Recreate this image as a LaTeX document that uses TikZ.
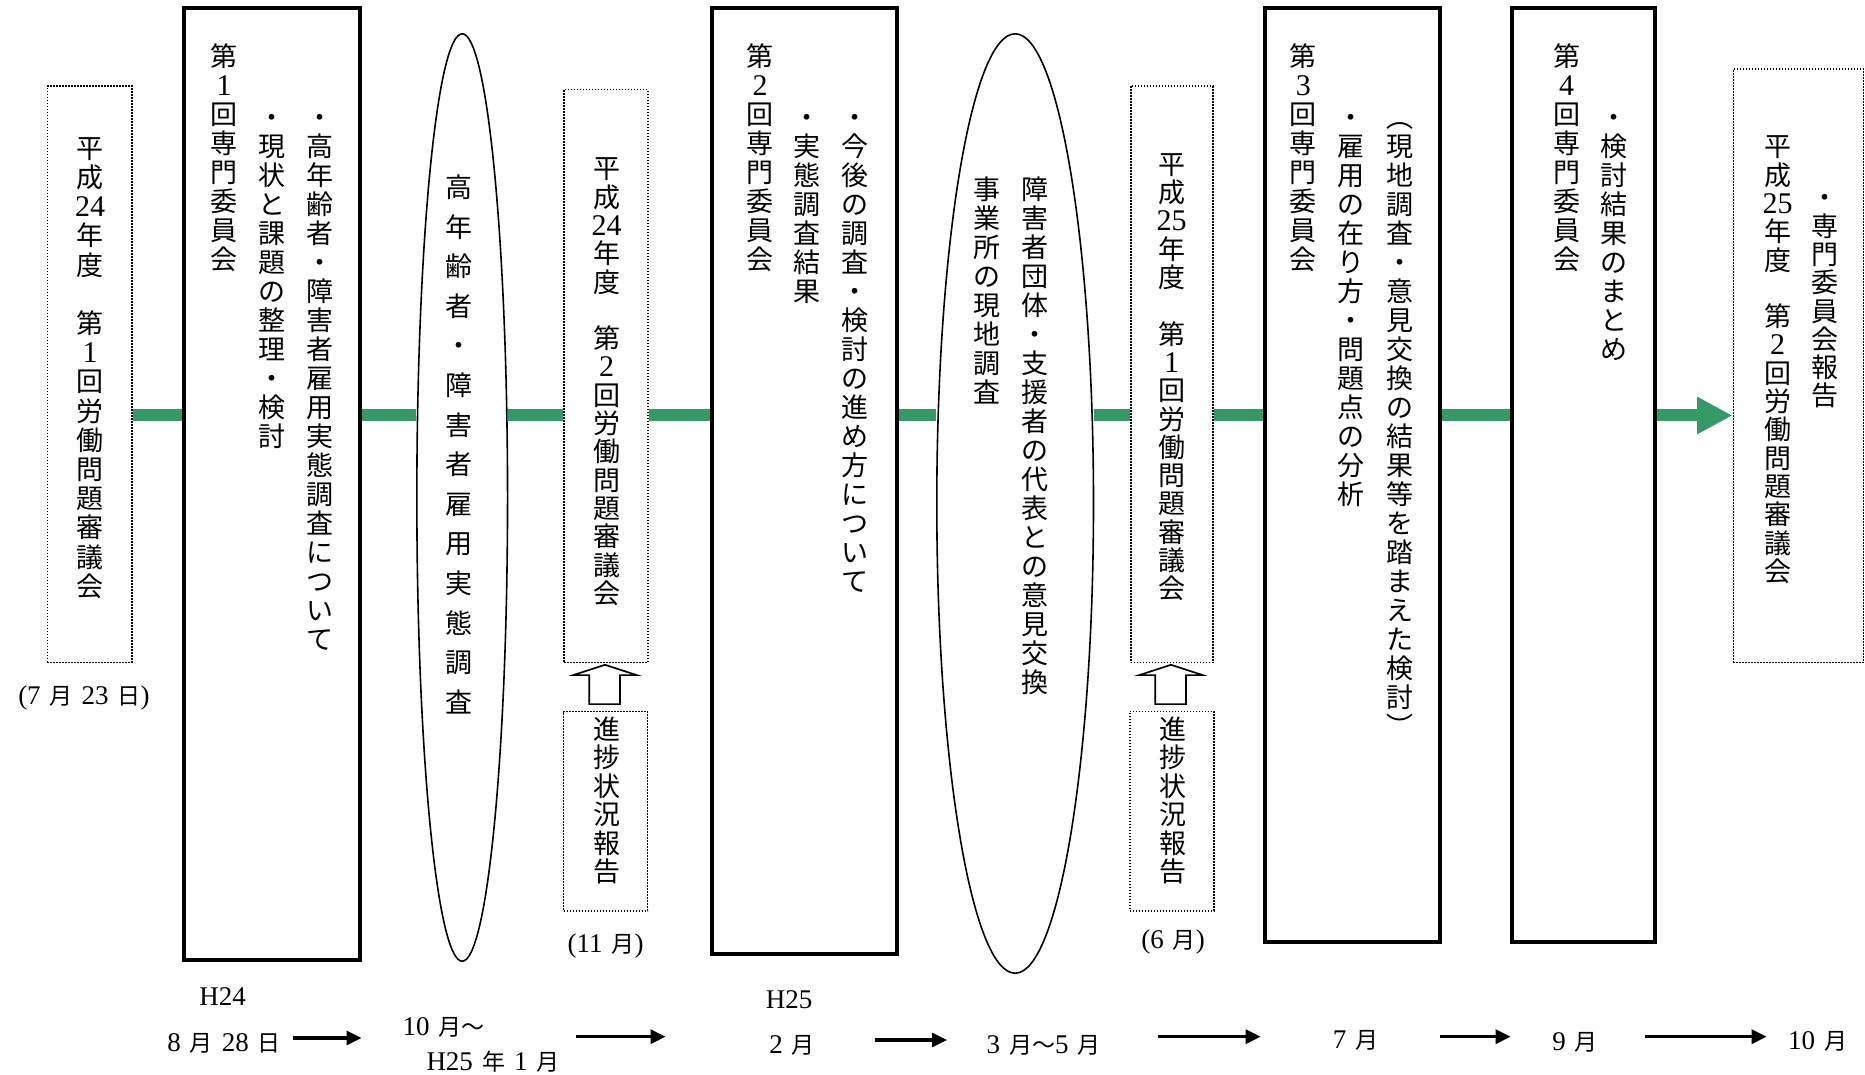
\documentclass[tikz,border=0pt]{standalone}
\usepackage{fontspec}
\newfontfamily\jp{Noto Sans CJK JP}
\newfontfamily\lat{Liberation Serif}
\usetikzlibrary{shapes.geometric,arrows.meta,calc,backgrounds}
\definecolor{lineGreen}{RGB}{51,153,102}

\newcommand\dg[1]{{\lat\fontsize{15}{15}\selectfont #1}}
\newcommand\ds[1]{{\lat\fontsize{13.5}{14}\selectfont #1}}
\newcommand\gp{\hspace{4.5pt}}
\newcommand\vcstrut{\vrule height 0.88em depth 0.12em width 0pt}

\ExplSyntaxOn
\dim_new:N \l_vc_pitch_dim
\NewDocumentCommand \vcol { O{14.5pt} m }
  {
    \dim_set:Nn \l_vc_pitch_dim {#1}
    \vbox:n
      {
        \offinterlineskip
        \tl_map_inline:nn {#2}
          {
            \hbox_to_wd:nn { 1.4em }
              {
                \hfil
                \vbox_to_ht:nn { \l_vc_pitch_dim }
                  { \vfil \hbox:n { \vcstrut ##1 } \vfil }
                \hfil
              }
          }
      }
  }
\ExplSyntaxOff

\tikzset{
  solidbox/.style={draw, line width=2pt, fill=white, inner sep=0pt, rectangle},
  dotbox/.style={draw, line width=0.8pt, dash pattern=on 0.8pt off 0.7pt, fill=white, inner sep=0pt, rectangle},
  oval/.style={ellipse, draw, line width=0.8pt, fill=white, inner sep=0pt},
  vtext/.style={inner sep=0pt, anchor=north, font=\jp\fontsize{13.5}{14}\selectfont},
  tl/.style={inner sep=0pt, font=\jp\fontsize{11.5}{14}\selectfont},
  gline/.style={line width=6pt, draw=lineGreen},
  garrow/.style={gline, -{Triangle[length=17.7pt,width=17.5pt]}},
  tarrow/.style={line width=1.6pt, -{Triangle[length=7.5pt,width=7pt]}},
  hollow/.style={draw, line width=0.85pt, fill=white, line join=miter},
}

\begin{document}
\begin{tikzpicture}[x=0.5pt,y=-0.5pt]
\useasboundingbox (0,0) rectangle (1865,1075);

% ---- A : first council meeting
\node[dotbox, minimum width=42.2pt, minimum height=288.25pt] (A) at (89.5,374.25) {};
\node[vtext] (A1) at (90,133) {\vcol[14.6pt]{平成{\dg{24}}年度　第{\dg{1}}回労働問題審議会}};
\node[tl] (A2) at (84,698) {\ds{(7}\gp 月\gp\ds{23}\gp 日\ds{)}};

% ---- B : first committee
\node[solidbox, minimum width=88pt, minimum height=476pt] (B) at (272,484) {};
\node[vtext] (B1) at (224,41) {\vcol{第{\dg{1}}回専門委員会}};
\node[vtext] (B2) at (272,102) {\vcol{・現状と課題の整理・検討}};
\node[vtext] (B3) at (320,102) {\vcol{・高年齢者・障害者雇用実態調査について}};

% ---- C : survey
\node[oval, minimum width=45.35pt, minimum height=463.7pt] (C) at (462.2,497.5) {};
\node[vtext] (C1) at (459,167) {\vcol[19.8pt]{高年齢者・障害者雇用実態調査}};

% ---- D : second council meeting
\node[dotbox, minimum width=41.85pt, minimum height=286.5pt] (D) at (605.9,376) {};
\node[vtext] (D1) at (606.7,154) {\vcol[14.15pt]{平成{\dg{24}}年度　第{\dg{2}}回労働問題審議会}};

% ---- E : progress report
\node[dotbox, minimum width=42pt, minimum height=99.6pt] (E) at (605.5,811.1) {};
\node[vtext] (E1) at (606.7,714.5) {\vcol[14.25pt]{進捗状況報告}};
\node[tl] (E2) at (605.5,946) {\ds{(11}\gp 月\ds{)}};

% ---- F : second committee
\node[solidbox, minimum width=92.5pt, minimum height=473pt] (F) at (804.5,481) {};
\node[vtext] (F1) at (760,41) {\vcol{第{\dg{2}}回専門委員会}};
\node[vtext] (F2) at (807,102) {\vcol{・実態調査結果}};
\node[vtext] (F3) at (855,102) {\vcol{・今後の調査・検討の進め方について}};

% ---- G : field survey
\node[oval, minimum width=78.35pt, minimum height=469.7pt] (G) at (1015.15,503.5) {};
\node[vtext] (G1) at (1035,174.4) {\vcol{障害者団体・支援者の代表との意見交換}};
\node[vtext] (G2) at (987.3,174.4) {\vcol{事業所の現地調査}};

% ---- H : council H25 first
\node[dotbox, minimum width=41pt, minimum height=288.25pt] (H) at (1171.7,374.25) {};
\node[vtext] (H1) at (1171.7,149.5) {\vcol[14.15pt]{平成{\dg{25}}年度　第{\dg{1}}回労働問題審議会}};

% ---- I : progress report
\node[dotbox, minimum width=42.1pt, minimum height=99.6pt] (I) at (1171.9,811.1) {};
\node[vtext] (I1) at (1173,714.5) {\vcol[14.25pt]{進捗状況報告}};
\node[tl] (I2) at (1173,942) {\ds{(6}\gp 月\ds{)}};

% ---- J : third committee
\node[solidbox, minimum width=87.2pt, minimum height=467pt] (J) at (1352.5,475) {};
\node[vtext] (J1) at (1303.3,41) {\vcol{第{\dg{3}}回専門委員会}};
\node[vtext] (J2) at (1350.7,102) {\vcol{・雇用の在り方・問題点の分析}};
\node[vtext] (J3) at (1399.5,102) {\vcol{︵現地調査・意見交換の結果等を踏まえた検討︶}};

% ---- K : fourth committee
\node[solidbox, minimum width=71.35pt, minimum height=467pt] (K) at (1583.35,475) {};
\node[vtext] (K1) at (1566.7,41) {\vcol{第{\dg{4}}回専門委員会}};
\node[vtext] (K2) at (1614.3,102) {\vcol{・検討結果のまとめ}};

% ---- L : council H25 second
\node[dotbox, minimum width=65.1pt, minimum height=296.75pt] (L) at (1798.4,365.75) {};
\node[vtext] (L1) at (1777.7,132) {\vcol[14.15pt]{平成{\dg{25}}年度　第{\dg{2}}回労働問題審議会}};
\node[vtext] (L2) at (1825,183) {\vcol[14.15pt]{・専門委員会報告}};

% ---- hollow up arrows (report -> council)
\draw[hollow] ($(D.south)+(-0.9,1.5)$) -- ++(31.7,10.3) -- ++(-16.7,0) -- ++(0,29) -- ++(-30.7,0) -- ++(0,-29) -- ++(-16,0) -- cycle;
\draw[hollow] ($(H.south)+(-0.7,1.5)$) -- ++(31.7,10.3) -- ++(-16.7,0) -- ++(0,29) -- ++(-30.7,0) -- ++(0,-29) -- ++(-16,0) -- cycle;

% ---- green main line
\coordinate (lvl) at (0,415.5);
\begin{scope}[on background layer]
\fill[white] (0,0) rectangle (1865,1075);
\draw[gline] (A.east |- lvl) -- (B.west |- lvl);
\draw[gline] (B.east |- lvl) -- (C.west |- lvl);
\draw[gline] (C.east |- lvl) -- (D.west |- lvl);
\draw[gline] (D.east |- lvl) -- (F.west |- lvl);
\draw[gline] (F.east |- lvl) -- (G.west |- lvl);
\draw[gline] (G.east |- lvl) -- (H.west |- lvl);
\draw[gline] (H.east |- lvl) -- (J.west |- lvl);
\draw[gline] (J.east |- lvl) -- (K.west |- lvl);
\draw[garrow] (K.east |- lvl) -- (L.west |- lvl);
\end{scope}

% ---- timeline at the bottom
\node[tl] (T1a) at (222.7,996.7) {\ds{H24}};
\node[tl] (T1) at (224,1043) {\ds{8}\gp 月\gp\ds{28}\gp 日};
\node[tl] (T2a) at (443.6,1027) {\ds{10}\gp 月～};
\node[tl] (T2b) at (493,1061.7) {\ds{H25}\gp 年\gp\ds{1}\gp 月};
\node[tl] (T3a) at (789,1000) {\ds{H25}};
\node[tl] (T3) at (792,1045) {\ds{2}\gp 月};
\node[tl] (T4) at (1043.6,1045) {\ds{3}\gp 月～\ds{5}\gp 月};
\node[tl] (T5) at (1355.6,1040) {\ds{7}\gp 月};
\node[tl] (T6) at (1575,1042.5) {\ds{9}\gp 月};
\node[tl] (T7) at (1817.5,1041) {\ds{10}\gp 月};

\coordinate (a1s) at (293,1038);    \coordinate (a1e) at (361.5,1038);
\coordinate (a2s) at (575.5,1036.7); \coordinate (a2e) at (665.5,1036.7);
\coordinate (a3s) at (875,1040);    \coordinate (a3e) at (947,1040);
\coordinate (a4s) at (1158,1036.7); \coordinate (a4e) at (1260.6,1036.7);
\coordinate (a5s) at (1439.6,1036.7); \coordinate (a5e) at (1510.7,1036.7);
\coordinate (a6s) at (1645,1036.7); \coordinate (a6e) at (1766.7,1036.7);
\draw[tarrow] (a1s) -- (a1e);
\draw[tarrow] (a2s) -- (a2e);
\draw[tarrow] (a3s) -- (a3e);
\draw[tarrow] (a4s) -- (a4e);
\draw[tarrow] (a5s) -- (a5e);
\draw[tarrow] (a6s) -- (a6e);
\end{tikzpicture}
\end{document}
